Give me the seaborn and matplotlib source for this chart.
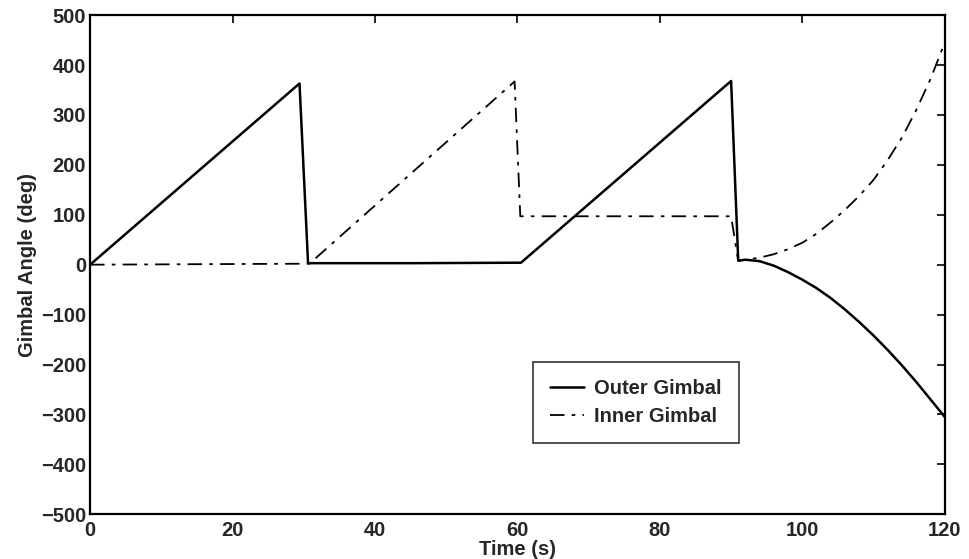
import numpy as np
import pandas as pd
import matplotlib
matplotlib.use("Agg")
import matplotlib.pyplot as plt
import seaborn as sns

# Data
outer_t = [0, 29.4, 30.6, 45, 60.5, 90.0, 91.0, 92, 94, 96, 98, 100, 102, 104, 106, 108, 110, 112, 114, 116, 118, 120]
outer_v = [0, 363, 3, 3, 4, 368, 8, 10, 7, -2, -15, -30, -47, -67, -90, -115, -142, -171, -202, -235, -270, -305]
inner_t = [0, 30.8, 59.6, 60.4, 75, 90.0, 91.0, 92, 94, 96, 98, 100, 102, 104, 106, 108, 110, 112, 114, 116, 118, 120]
inner_v = [0, 2, 367, 97, 97, 97, 8, 10, 14, 21, 31, 44, 62, 85, 110, 138, 170, 210, 255, 310, 372, 445]
series_names = ["Outer Gimbal", "Inner Gimbal"]
x_ticks = [0, 20, 40, 60, 80, 100, 120]
y_ticks = [-500, -400, -300, -200, -100, 0, 100, 200, 300, 400, 500]

sns.set_theme(style="white")
plt.rcParams['font.family'] = ['Liberation Sans', 'DejaVu Sans']

df = pd.concat([
    pd.DataFrame({"t": outer_t, "v": outer_v, "series": series_names[0]}),
    pd.DataFrame({"t": inner_t, "v": inner_v, "series": series_names[1]}),
])

fig = plt.figure(figsize=(9.69, 5.59), dpi=100)
ax = fig.add_axes([0.093, 0.080, 0.882, 0.893])

sns.lineplot(data=df[df.series == series_names[0]], x="t", y="v", ax=ax,
             color="black", linewidth=1.8, linestyle="-", label=series_names[0],
             sort=False, estimator=None)
sns.lineplot(data=df[df.series == series_names[1]], x="t", y="v", ax=ax,
             color="black", linewidth=1.3, linestyle=(0, (8, 4, 2, 4)), label=series_names[1],
             sort=False, estimator=None)

ax.set_xlim(0, 120)
ax.set_ylim(-500, 500)
ax.set_xticks(x_ticks)
ax.set_yticks(y_ticks)
ax.set_yticklabels([str(v).replace('-', '\u2212') for v in y_ticks])
ax.tick_params(direction='in', length=6, width=1.2, labelsize=14.5, top=True, right=True, color='black')
for lab in ax.get_xticklabels() + ax.get_yticklabels():
    lab.set_fontweight('bold')
ax.tick_params(axis='x', pad=5)
ax.tick_params(axis='y', pad=3)
for s in ax.spines.values():
    s.set_color('black')
    s.set_linewidth(1.6)

ax.set_xlabel("Time (s)", fontsize=14.5, fontweight='bold', labelpad=0)
ax.set_ylabel("Gimbal Angle (deg)", fontsize=14.5, fontweight='bold', labelpad=3)

leg = ax.legend(loc='upper left', bbox_to_anchor=(0.518, 0.305), frameon=True,
                fancybox=False, edgecolor='black', handlelength=1.7, borderaxespad=0,
                borderpad=0.85, labelspacing=0.45, handletextpad=0.5,
                prop={'weight': 'bold', 'size': 14.5})
leg.get_frame().set_linewidth(1.2)

fig.savefig("out.png", dpi=100)
